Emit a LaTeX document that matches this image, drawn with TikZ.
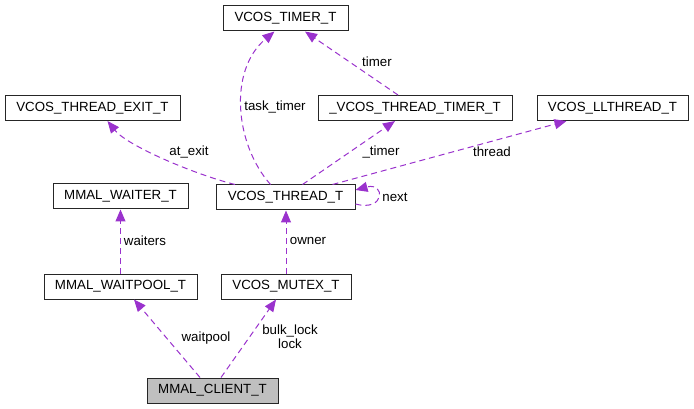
\documentclass[tikz,border=0pt]{standalone}
\usepackage{fontspec}
\setmainfont{Liberation Sans}
\definecolor{DoxPurple}{HTML}{9A32CD}
\definecolor{DoxGray}{HTML}{BFBFBF}
\usetikzlibrary{arrows.meta}

\begin{document}
\begin{tikzpicture}[x=1pt,y=-1pt,>={Triangle[length=12pt,width=10pt]},
    cls/.style={draw=black!85,line width=1pt,minimum height=25pt,inner sep=0pt,
      font=\fontsize{13.3}{15}\selectfont},
    uses/.style={->,draw=DoxPurple,fill=none,line width=1pt,dash pattern=on 6pt off 4pt},
    lab/.style={inner sep=0pt,align=center,font=\fontsize{13.3}{14}\selectfont}]
    \useasboundingbox (0,0) rectangle (694,409);
    % classes
    \node[cls,minimum width=125pt] (timer) at (285.5,18.5) {VCOS\_TIMER\_T};
    \node[cls,minimum width=175pt] (exit) at (92.5,108) {VCOS\_THREAD\_EXIT\_T};
    \node[cls,minimum width=194pt] (thtimer) at (415,108) {\_VCOS\_THREAD\_TIMER\_T};
    \node[cls,minimum width=151pt] (llthread) at (612.5,108) {VCOS\_LLTHREAD\_T};
    \node[cls,minimum width=135pt] (waiter) at (120.5,196.5) {MMAL\_WAITER\_T};
    \node[cls,minimum width=139pt] (thread) at (285.5,197.5) {VCOS\_THREAD\_T};
    \node[cls,minimum width=153pt] (waitpool) at (120.5,286.5) {MMAL\_WAITPOOL\_T};
    \node[cls,minimum width=130pt] (mutex) at (286,286.5) {VCOS\_MUTEX\_T};
    \node[cls,minimum width=131pt,fill=DoxGray] (client) at (212.5,390.5) {MMAL\_CLIENT\_T};
    % members
    \draw[uses] ([xshift=-12.5pt]client.north) -- ([xshift=13.5pt]waitpool.south);
    \draw[uses] ([xshift=8.5pt]client.north) -- ([xshift=-10pt]mutex.south);
    \draw[uses] (waitpool.north) -- (waiter.south);
    \draw[uses] (mutex.north) -- ([xshift=0.5pt]thread.south);
    \draw[uses] ([xshift=-50.5pt]thread.north) .. controls +(-40,-10) and +(20,25)
      .. ([xshift=15pt]exit.south);
    \draw[uses] ([xshift=-15pt]thread.north) .. controls +(-35.5,-40) and +(-46.5,39)
      .. ([xshift=-11pt]timer.south);
    \draw[uses] ([xshift=17pt]thread.north) -- ([xshift=-20pt]thtimer.south);
    \draw[uses] ([xshift=-17pt]thtimer.north) -- ([xshift=19.5pt]timer.south);
    \draw[uses] ([xshift=47pt]thread.north) -- ([xshift=-46pt]llthread.south);
    \draw[uses] ([yshift=-6.5pt]thread.east) .. controls +(30,8) and +(30,-8)
      .. ([yshift=7.5pt]thread.east);
    % labels
    \node[lab] (lwaitpool) at (206,338) {waitpool};
    \node[lab] (llock) at (290,337) {bulk\_lock\\lock};
    \node[lab] (lwaiters) at (145,241) {waiters};
    \node[lab] (lowner) at (308,241) {owner};
    \node[lab] (latexit) at (189,152) {at\_exit};
    \node[lab] (ltasktimer) at (275,107) {task\_timer};
    \node[lab] (lthtimer) at (381,152) {\_timer};
    \node[lab] (ltimer) at (377,62) {timer};
    \node[lab] (lthread) at (492,152) {thread};
    \node[lab] (lnext) at (395,197) {next};
\end{tikzpicture}
\end{document}
